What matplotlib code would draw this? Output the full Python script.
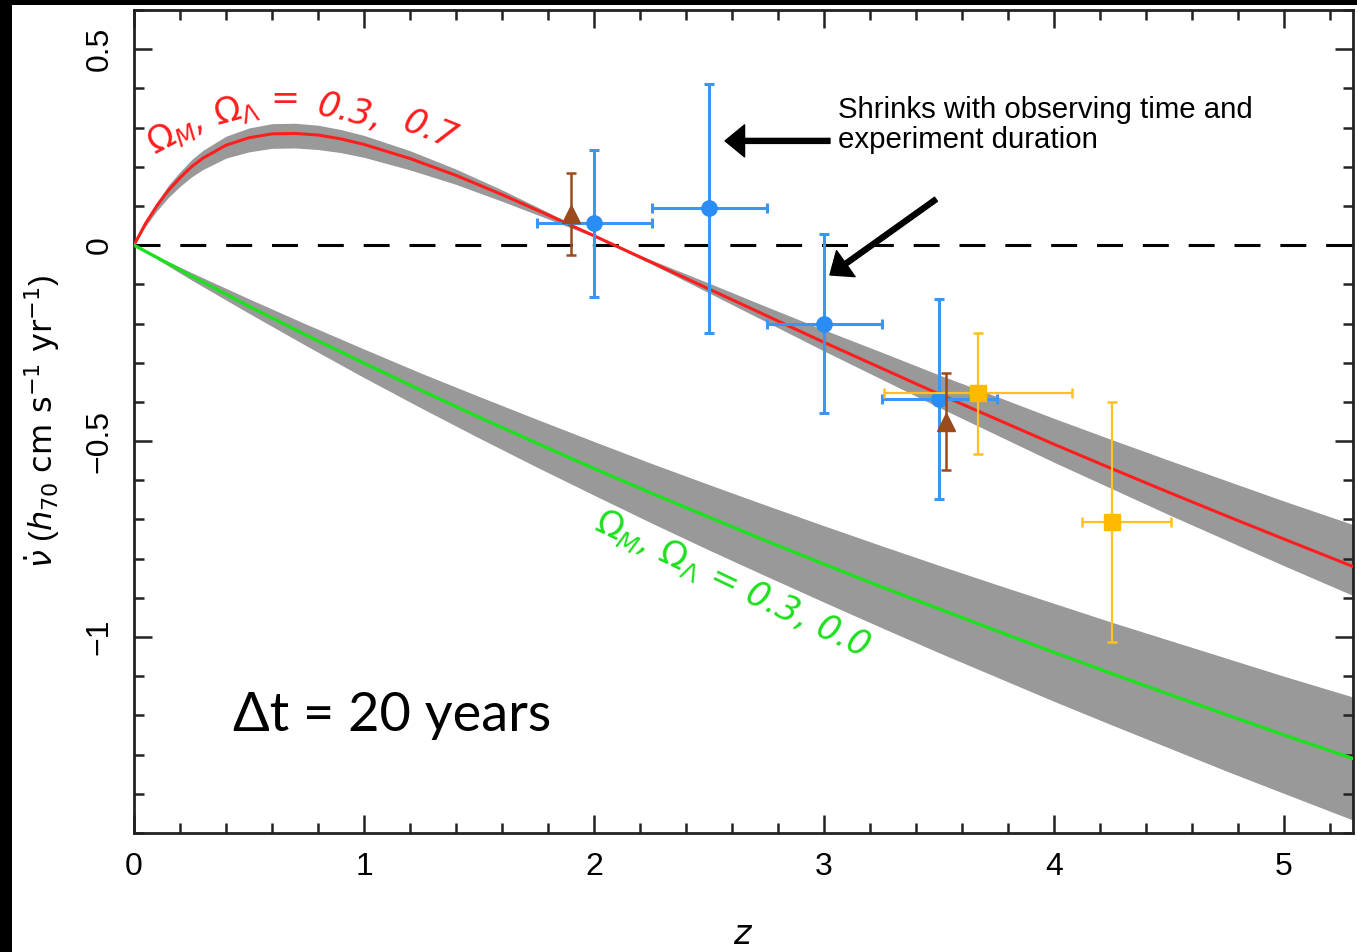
import matplotlib
matplotlib.use("Agg")
import matplotlib.pyplot as plt
from matplotlib.patches import Rectangle
from matplotlib.ticker import MultipleLocator

# ---------------- data ----------------
z_red = [0.0, 0.05, 0.1, 0.15, 0.2, 0.25, 0.3, 0.4, 0.5, 0.6, 0.7, 0.8, 0.9, 1.0,
         1.2, 1.4, 1.6, 1.8, 2.0, 2.25, 2.5, 2.75, 3.0, 3.25, 3.5, 3.75, 4.0,
         4.25, 4.5, 4.75, 5.0, 5.3]
v_red = [0.0, 0.055, 0.101, 0.140, 0.172, 0.200, 0.222, 0.255, 0.274, 0.284, 0.285,
         0.281, 0.271, 0.257, 0.221, 0.178, 0.129, 0.077, 0.024, -0.044, -0.112,
         -0.180, -0.248, -0.314, -0.380, -0.444, -0.508, -0.570, -0.631, -0.691,
         -0.750, -0.820]
v_red_hi = [0.0, 0.060, 0.110, 0.153, 0.187, 0.218, 0.242, 0.278, 0.299, 0.310, 0.311,
            0.306, 0.295, 0.280, 0.241, 0.194, 0.141, 0.084, 0.026, -0.038, -0.097,
            -0.157, -0.216, -0.273, -0.331, -0.386, -0.442, -0.496, -0.549, -0.601,
            -0.653, -0.713]
v_red_lo = [0.0, 0.048, 0.088, 0.122, 0.150, 0.174, 0.193, 0.222, 0.238, 0.247, 0.248,
            0.244, 0.236, 0.224, 0.192, 0.155, 0.112, 0.067, 0.021, -0.048, -0.122,
            -0.196, -0.270, -0.342, -0.414, -0.484, -0.554, -0.621, -0.688, -0.753,
            -0.818, -0.894]

z_green = [0.0, 0.25, 0.5, 0.75, 1.0, 1.25, 1.5, 1.75, 2.0, 2.25, 2.5, 2.75, 3.0,
           3.25, 3.5, 3.75, 4.0, 4.25, 4.5, 4.75, 5.0, 5.3]
v_green = [0.0, -0.079, -0.156, -0.230, -0.301, -0.371, -0.439, -0.505, -0.570,
           -0.633, -0.694, -0.755, -0.814, -0.872, -0.928, -0.984, -1.039, -1.093,
           -1.146, -1.198, -1.250, -1.310]
v_green_hi = [0.0, -0.070, -0.137, -0.202, -0.265, -0.327, -0.386, -0.444, -0.501,
              -0.557, -0.611, -0.664, -0.716, -0.767, -0.817, -0.866, -0.914, -0.962,
              -1.008, -1.054, -1.100, -1.153]
v_green_lo = [0.0, -0.089, -0.174, -0.257, -0.338, -0.416, -0.492, -0.566, -0.638,
              -0.709, -0.778, -0.845, -0.911, -0.976, -1.040, -1.102, -1.164, -1.224,
              -1.283, -1.342, -1.399, -1.467]

blue_z = [2.0, 2.5, 3.0, 3.5]
blue_v = [0.056, 0.094, -0.200, -0.393]
blue_zerr = [0.25, 0.25, 0.25, 0.25]
blue_verr = [0.188, 0.318, 0.229, 0.256]

brown_z = [1.90, 3.53]
brown_v = [0.080, -0.450]
brown_verr = [0.105, 0.123]

orange_z = [3.67, 4.25]
orange_v = [-0.378, -0.706]
orange_zerr_lo = [0.41, 0.13]
orange_zerr_hi = [0.41, 0.26]
orange_verr = [0.155, 0.306]

x_ticks = [0, 1, 2, 3, 4, 5]
x_tick_labels = ["0", "1", "2", "3", "4", "5"]
y_ticks = [-1.0, -0.5, 0.0, 0.5]
y_tick_labels = ["\u22121", "\u22120.5", "0", "0.5"]

red_label_parts = [r"$\Omega_M$,", r"$\Omega_\Lambda$", "=", "0.3,", "0.7"]
green_label = r"$\Omega_M$, $\Omega_\Lambda$ = 0.3, 0.0"
note_text = "Shrinks with observing time and\nexperiment duration"
dt_text = "\u0394t = 20 years"

# ---------------- figure ----------------
plt.rcParams["mathtext.fontset"] = "dejavusans"
plt.rcParams["mathtext.default"] = "it"
plt.rcParams["font.family"] = ["Liberation Sans", "DejaVu Sans"]

fig = plt.figure(figsize=(13.57, 9.52), dpi=100)
fig.patch.set_facecolor("black")
bg = Rectangle((12 / 1357, 0), 1 - 12 / 1357, 1 - 5 / 952,
               transform=fig.transFigure, facecolor="white",
               edgecolor="none", zorder=-10)
fig.patches.append(bg)

ax = fig.add_axes([134 / 1357, 1 - 833 / 952, (1353 - 134) / 1357, (833 - 10) / 952])
ax.set_zorder(1)
ax.patch.set_facecolor("white")
ax.set_xlim(0, 5.3)
ax.set_ylim(-1.5, 0.6)

# bands and curves
ax.fill_between(z_red, v_red_lo, v_red_hi, color="#999999", lw=0, zorder=1)
ax.fill_between(z_green, v_green_lo, v_green_hi, color="#999999", lw=0, zorder=1)
ax.axhline(0, color="black", lw=2.2, dashes=(8.5, 6.5), zorder=2)
ax.plot(z_red, v_red, color="#FF1E1E", lw=2.2, zorder=3)
ax.plot(z_green, v_green, color="#1EE01E", lw=2.4, zorder=3)

# data points
ax.errorbar(blue_z, blue_v, xerr=blue_zerr, yerr=blue_verr, fmt="o", ms=11,
            color="#2A8CF5", ecolor="#3A96F5", elinewidth=2.2, capsize=3.5,
            capthick=2.2, zorder=5)
ax.errorbar(orange_z, orange_v, xerr=[orange_zerr_lo, orange_zerr_hi],
            yerr=orange_verr, fmt="s", ms=11, color="#FFBA00", ecolor="#FFC020",
            elinewidth=1.6, capsize=3.5, capthick=1.8, zorder=6)
ax.errorbar(brown_z, brown_v, yerr=brown_verr, fmt="^", ms=13,
            color="#9A4A1C", ecolor="#9A4A1C", elinewidth=1.8, capsize=3.5,
            capthick=1.8, zorder=7)

# axes styling
ax.set_xticks(x_ticks)
ax.set_xticklabels(x_tick_labels)
ax.set_yticks(y_ticks)
ax.set_yticklabels(y_tick_labels, rotation=90, va="center")
ax.xaxis.set_minor_locator(MultipleLocator(0.2))
ax.yaxis.set_minor_locator(MultipleLocator(0.1))
ax.tick_params(which="both", direction="in", top=True, right=True, width=1.8,
               color="#222222")
ax.tick_params(which="major", length=13, labelsize=23, pad=14)
ax.tick_params(which="minor", length=7)
for s in ax.spines.values():
    s.set_linewidth(2.0)
    s.set_color("#222222")

ax.set_xlabel(r"$\mathbf{\mathit{z}}$", fontsize=24, labelpad=27)
ax.set_ylabel(r"$\dot{\nu}$ ($h_{70}$ $\mathrm{cm\ s^{-1}\ yr^{-1}}$)",
              fontsize=23, labelpad=16)

# curve labels
red_pos = [(0.180, 0.287, 28), (0.443, 0.345, 15), (0.657, 0.373, 0),
           (0.939, 0.340, -13), (1.287, 0.295, -22)]
for txt, (x, y, r) in zip(red_label_parts, red_pos):
    ax.text(x, y, txt, color="#FF1E1E", fontsize=25, style="italic",
            family="DejaVu Sans", rotation=r, ha="center", va="center",
            rotation_mode="anchor", zorder=8)
ax.text(2.60, -0.865, green_label, color="#1EE01E", fontsize=25, style="italic",
        family="DejaVu Sans", rotation=-25.4, ha="center", va="center",
        rotation_mode="anchor", zorder=8)

# annotation arrows and note
arrow_kw = dict(facecolor="black", edgecolor="black", width=3.6, headwidth=23,
                headlength=14, shrink=0.0)
ax.annotate("", xy=(2.57, 0.266), xytext=(3.026, 0.266), arrowprops=arrow_kw, zorder=9)
ax.annotate("", xy=(3.026, -0.076), xytext=(3.487, 0.117), arrowprops=arrow_kw, zorder=9)
ax.text(3.061, 0.381, note_text, fontsize=21.2, va="top", ha="left",
        linespacing=1.12, family=["Liberation Sans", "DejaVu Sans"], zorder=9)

ax.text(0.43, -1.239, dt_text, fontsize=39, va="baseline", ha="left",
        color="black", family=["Lato", "DejaVu Sans"], weight="normal", zorder=9)

fig.savefig("out.png", dpi=100, facecolor=fig.get_facecolor())
